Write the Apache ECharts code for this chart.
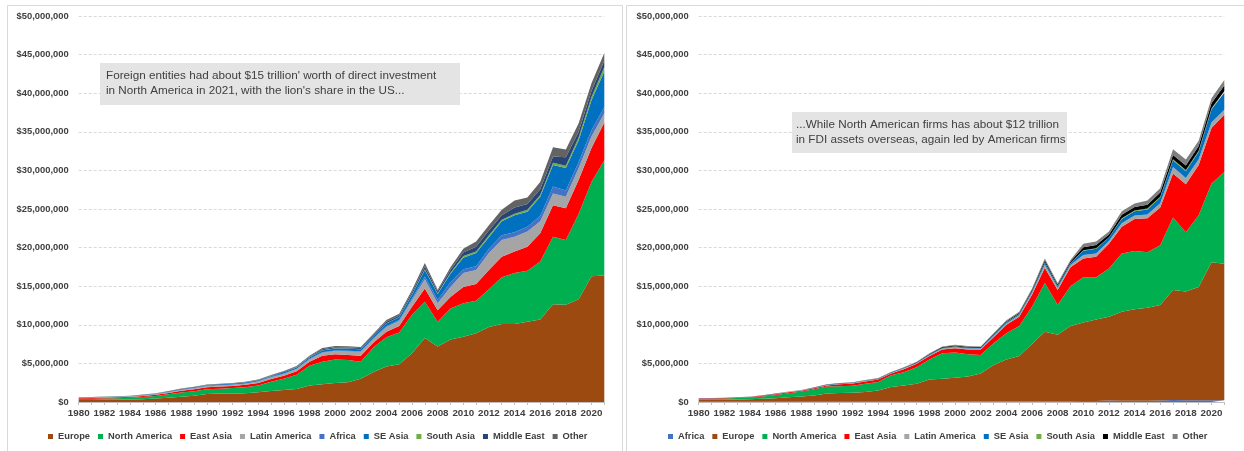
<!DOCTYPE html>
<html>
<head>
<meta charset="utf-8">
<script src="https://cdn.jsdelivr.net/npm/echarts@6/dist/echarts.min.js"></script>
<style>
  html, body { margin: 0; padding: 0; background: #ffffff; }
  #chart { width: 1244px; height: 451px; }
</style>
</head>
<body>
<div id="chart"></div>
<script>
// Years on the category axis
const years = ['1980','1981','1982','1983','1984','1985','1986','1987','1988','1989',
  '1990','1991','1992','1993','1994','1995','1996','1997','1998','1999',
  '2000','2001','2002','2003','2004','2005','2006','2007','2008','2009',
  '2010','2011','2012','2013','2014','2015','2016','2017','2018','2019',
  '2020','2021'];

// Values below are in millions of axis units (x 1,000,000)
const UNIT = 1e6;

// Inward FDI into North America, by source region
const inEurope       = [0.25,0.27,0.28,0.30,0.32,0.37,0.44,0.55,0.68,0.80, 1.05,1.10,1.08,1.12,1.25,1.42,1.55,1.68,2.15,2.30, 2.45,2.55,3.00,3.90,4.60,4.90,6.30,8.30,7.20,8.10, 8.45,8.90,9.70,10.10,10.10,10.40,10.70,12.65,12.60,13.30, 16.30,16.40];
const inNorthAmerica = [0.15,0.16,0.17,0.19,0.22,0.27,0.34,0.44,0.55,0.60, 0.60,0.62,0.72,0.80,0.90,1.20,1.45,1.85,2.55,2.90, 3.05,2.90,2.20,3.20,3.80,4.10,5.00,4.70,3.20,4.00, 4.35,4.20,4.90,6.05,6.60,6.60,7.50,8.75,8.40,11.10, 12.20,14.90];
const inEastAsia     = [0.10,0.10,0.11,0.11,0.12,0.14,0.16,0.18,0.22,0.26, 0.26,0.28,0.28,0.30,0.32,0.36,0.40,0.45,0.50,0.80, 0.70,0.65,0.80,0.60,0.70,0.85,1.05,1.70,1.50,1.50, 2.10,2.20,2.50,2.65,2.80,3.10,3.65,4.10,4.10,4.40, 4.40,4.90];
const inLatinAmerica = [0.04,0.04,0.05,0.05,0.05,0.06,0.07,0.08,0.10,0.11, 0.12,0.13,0.14,0.15,0.17,0.20,0.24,0.28,0.32,0.38, 0.40,0.45,0.50,0.50,0.60,0.65,0.85,1.20,0.90,1.30, 1.80,1.80,2.20,2.20,1.90,2.00,1.55,1.50,1.50,1.50, 1.50,1.20];
const inAfrica       = [0.02,0.02,0.02,0.02,0.02,0.03,0.03,0.03,0.04,0.04, 0.04,0.04,0.04,0.04,0.05,0.05,0.06,0.06,0.07,0.08, 0.08,0.09,0.09,0.10,0.12,0.13,0.20,0.35,0.45,0.60, 0.50,0.50,0.55,0.60,0.60,0.60,0.70,0.90,0.80,0.80, 0.80,0.80];
const inSEAsia       = [0.02,0.02,0.03,0.03,0.03,0.04,0.04,0.05,0.06,0.07, 0.08,0.09,0.09,0.10,0.10,0.12,0.14,0.16,0.18,0.22, 0.24,0.25,0.25,0.25,0.35,0.35,0.50,0.85,0.75,1.10, 1.50,1.70,1.50,1.80,2.20,1.95,2.50,2.80,2.90,2.80, 3.90,4.60];
const inSouthAsia    = [0.005,0.005,0.005,0.005,0.005,0.005,0.005,0.01,0.01,0.01, 0.01,0.01,0.01,0.01,0.01,0.01,0.02,0.02,0.02,0.03, 0.03,0.03,0.03,0.03,0.04,0.04,0.06,0.10,0.10,0.15, 0.20,0.20,0.25,0.20,0.20,0.25,0.20,0.30,0.30,0.40, 0.40,0.60];
const inMiddleEast   = [0.02,0.02,0.02,0.02,0.02,0.03,0.03,0.04,0.04,0.05, 0.05,0.05,0.05,0.05,0.06,0.07,0.08,0.08,0.10,0.12, 0.13,0.13,0.13,0.14,0.20,0.20,0.25,0.35,0.25,0.35, 0.45,0.60,0.60,0.60,0.80,0.75,0.75,0.80,1.10,0.70, 0.80,0.80];
const inOther        = [0.02,0.02,0.02,0.02,0.03,0.03,0.03,0.04,0.04,0.05, 0.05,0.05,0.05,0.06,0.06,0.07,0.08,0.09,0.10,0.15, 0.16,0.16,0.14,0.15,0.20,0.20,0.30,0.45,0.20,0.35, 0.50,0.70,0.70,0.70,0.90,0.85,0.95,1.20,1.00,1.10, 1.00,1.00];

// Outward FDI held by North American firms, by destination region
const outAfrica       = [0.02,0.02,0.02,0.02,0.02,0.02,0.02,0.02,0.02,0.02, 0.03,0.03,0.03,0.03,0.03,0.03,0.03,0.03,0.03,0.03, 0.05,0.05,0.05,0.05,0.05,0.05,0.08,0.10,0.10,0.10, 0.12,0.12,0.18,0.15,0.15,0.15,0.18,0.25,0.22,0.22, 0.22,0.22];
const outEurope       = [0.26,0.27,0.28,0.30,0.33,0.40,0.48,0.58,0.68,0.83, 1.07,1.12,1.17,1.27,1.47,1.92,2.12,2.32,2.87,2.97, 3.10,3.25,3.65,4.75,5.45,5.90,7.42,9.00,8.60,9.75, 10.18,10.58,10.87,11.55,11.85,12.05,12.37,14.25,14.08,14.68, 17.88,17.68];
const outNorthAmerica = [0.12,0.14,0.16,0.20,0.23,0.30,0.40,0.52,0.65,0.80, 0.90,0.90,0.90,1.05,1.10,1.50,1.70,2.15,2.60,3.30, 3.25,2.90,2.40,2.80,3.40,3.90,4.85,6.30,3.90,5.15, 5.85,5.45,6.25,7.55,7.55,7.20,7.75,9.40,7.70,9.30, 10.20,11.90];
const outEastAsia     = [0.05,0.05,0.06,0.06,0.07,0.10,0.12,0.14,0.11,0.13, 0.15,0.25,0.30,0.30,0.30,0.25,0.40,0.45,0.45,0.50, 0.55,0.60,0.70,0.80,1.10,1.20,1.55,2.00,1.90,2.45, 2.45,2.65,3.20,3.45,4.15,4.40,4.90,5.70,6.20,6.50, 7.20,7.40];
const outLatinAmerica = [0.01,0.012,0.012,0.015,0.015,0.02,0.025,0.028,0.028,0.035, 0.045,0.045,0.045,0.06,0.06,0.06,0.08,0.08,0.10,0.12, 0.14,0.14,0.12,0.15,0.18,0.20,0.25,0.40,0.30,0.28, 0.45,0.45,0.35,0.45,0.45,0.50,0.55,0.85,0.80,0.75, 0.70,0.65];
const outSEAsia       = [0.01,0.01,0.01,0.012,0.012,0.015,0.02,0.022,0.022,0.03, 0.04,0.04,0.04,0.05,0.05,0.05,0.06,0.06,0.09,0.10, 0.11,0.11,0.10,0.13,0.15,0.16,0.20,0.30,0.22,0.25, 0.55,0.60,0.45,0.55,0.55,0.65,0.75,0.85,0.90,0.95, 1.70,2.20];
const outSouthAsia    = [0,0.003,0.003,0.003,0.003,0.003,0.005,0.005,0.005,0.005, 0.005,0.005,0.005,0.01,0.01,0.01,0.01,0.01,0.01,0.015, 0.015,0.015,0.015,0.02,0.02,0.02,0.03,0.05,0.04,0.04, 0.05,0.05,0.05,0.10,0.10,0.10,0.10,0.15,0.15,0.15, 0.15,0.20];
const outMiddleEast   = [0.005,0.007,0.007,0.01,0.01,0.01,0.015,0.017,0.017,0.025, 0.03,0.03,0.03,0.04,0.04,0.04,0.05,0.05,0.07,0.08, 0.09,0.09,0.08,0.10,0.12,0.13,0.16,0.20,0.16,0.18, 0.40,0.45,0.35,0.45,0.45,0.50,0.55,0.55,0.60,0.60, 0.65,0.75];
const outOther        = [0.005,0.008,0.008,0.01,0.01,0.012,0.015,0.018,0.018,0.025, 0.03,0.03,0.03,0.04,0.04,0.04,0.05,0.05,0.08,0.085, 0.095,0.095,0.085,0.10,0.13,0.14,0.16,0.25,0.18,0.20, 0.45,0.45,0.40,0.45,0.45,0.55,0.55,0.75,0.75,0.70, 0.65,0.70];

// Value-axis ticks
const yMax = 50000000;
const yStep = 5000000;

// Layer definitions (bottom of the stack first)
const leftLayers = [
  ['Europe', inEurope, '#9C4A10'],
  ['North America', inNorthAmerica, '#00B050'],
  ['East Asia', inEastAsia, '#FF0000'],
  ['Latin America', inLatinAmerica, '#A5A5A5'],
  ['Africa', inAfrica, '#4472C4'],
  ['SE Asia', inSEAsia, '#0070C0'],
  ['South Asia', inSouthAsia, '#70AD47'],
  ['Middle East', inMiddleEast, '#264478'],
  ['Other', inOther, '#636363']
];
const rightLayers = [
  ['Africa', outAfrica, '#4472C4'],
  ['Europe', outEurope, '#9C4A10'],
  ['North America', outNorthAmerica, '#00B050'],
  ['East Asia', outEastAsia, '#FF0000'],
  ['Latin America', outLatinAmerica, '#A5A5A5'],
  ['SE Asia', outSEAsia, '#0070C0'],
  ['South Asia', outSouthAsia, '#70AD47'],
  ['Middle East', outMiddleEast, '#000000'],
  ['Other', outOther, '#7F7F7F']
];

const FONT = "'Liberation Sans', Arial, sans-serif";
const TEXT = '#404040';

function makeSeries(layers, idx, stackName) {
  return layers.map(([name, values, color]) => ({
    id: stackName + '-' + name,
    name: name,
    type: 'line',
    stack: stackName,
    xAxisIndex: idx,
    yAxisIndex: idx,
    data: values.map(v => v * UNIT),
    color: color,
    symbol: 'none',
    lineStyle: { width: 0 },
    areaStyle: { color: color, opacity: 1 },
    emphasis: { disabled: true },
    animation: false
  }));
}

function makeXAxis(idx) {
  return {
    type: 'category', gridIndex: idx, data: years, boundaryGap: false,
    axisLine: { lineStyle: { color: '#bfbfbf', width: 1 } },
    axisTick: { show: true, interval: 0, length: 3, lineStyle: { color: '#bfbfbf' } },
    axisLabel: { interval: 1, fontFamily: FONT, fontSize: 9.8, fontWeight: 'bold', color: TEXT, margin: 6 },
    splitLine: { show: false }
  };
}
function makeYAxis(idx) {
  return {
    type: 'value', gridIndex: idx, min: 0, max: yMax, interval: yStep,
    axisLine: { show: false }, axisTick: { show: false },
    axisLabel: {
      fontFamily: FONT, fontSize: 9.4, fontWeight: 'bold', color: TEXT, margin: 10,
      formatter: v => '$' + v.toLocaleString('en-US')
    },
    splitLine: { lineStyle: { color: '#d9d9d9', type: [3, 2], width: 1 } }
  };
}
function makeLegend(layers, left) {
  return {
    left: left, top: 432, width: 600, padding: 0, orient: 'horizontal',
    icon: 'rect', itemWidth: 5, itemHeight: 5, itemGap: 8,
    textStyle: { fontFamily: FONT, fontSize: 9.3, fontWeight: 'bold', color: TEXT },
    selectedMode: false,
    data: layers.map(([name, , color]) => ({ name: name, itemStyle: { color: color } }))
  };
}

function noteBox(x, y, w, h, pad, lines) {
  return {
    type: 'group',
    z: 100,
    children: [
      { type: 'rect', z: 100, shape: { x: x, y: y, width: w, height: h }, style: { fill: '#e4e4e4' } },
      { type: 'text', z: 101, x: x + pad, y: y + 5,
        style: { text: lines.join('\n'), font: '11.7px ' + FONT, fill: TEXT, lineHeight: 15 } }
    ]
  };
}

const chart = echarts.init(document.getElementById('chart'), null, { renderer: 'canvas' });
chart.setOption({
  animation: false,
  backgroundColor: '#ffffff',
  grid: [
    { left: 78.7, top: 16, width: 525.6, height: 386 },
    { left: 698.7, top: 16, width: 525.6, height: 386 }
  ],
  xAxis: [makeXAxis(0), makeXAxis(1)],
  yAxis: [makeYAxis(0), makeYAxis(1)],
  legend: [makeLegend(leftLayers, 48), makeLegend(rightLayers, 668)],
  series: makeSeries(leftLayers, 0, 'inward').concat(makeSeries(rightLayers, 1, 'outward')),
  graphic: [
    { type: 'rect', shape: { x: 7.5, y: 5.5, width: 615, height: 460 }, style: { fill: 'none', stroke: '#d9d9d9', lineWidth: 1 }, z: -1 },
    { type: 'rect', shape: { x: 626.5, y: 5.5, width: 640, height: 460 }, style: { fill: 'none', stroke: '#d9d9d9', lineWidth: 1 }, z: -1 },
    noteBox(100, 63, 360, 42, 6, [
      "Foreign entities had about $15 trillion' worth of direct investment",
      "in North America in 2021, with the lion's share in the US..."
    ]),
    noteBox(792, 112, 275, 41, 4, [
      '...While North American firms has about $12 trillion',
      'in FDI assets overseas, again led by American firms'
    ])
  ]
});
</script>
</body>
</html>
